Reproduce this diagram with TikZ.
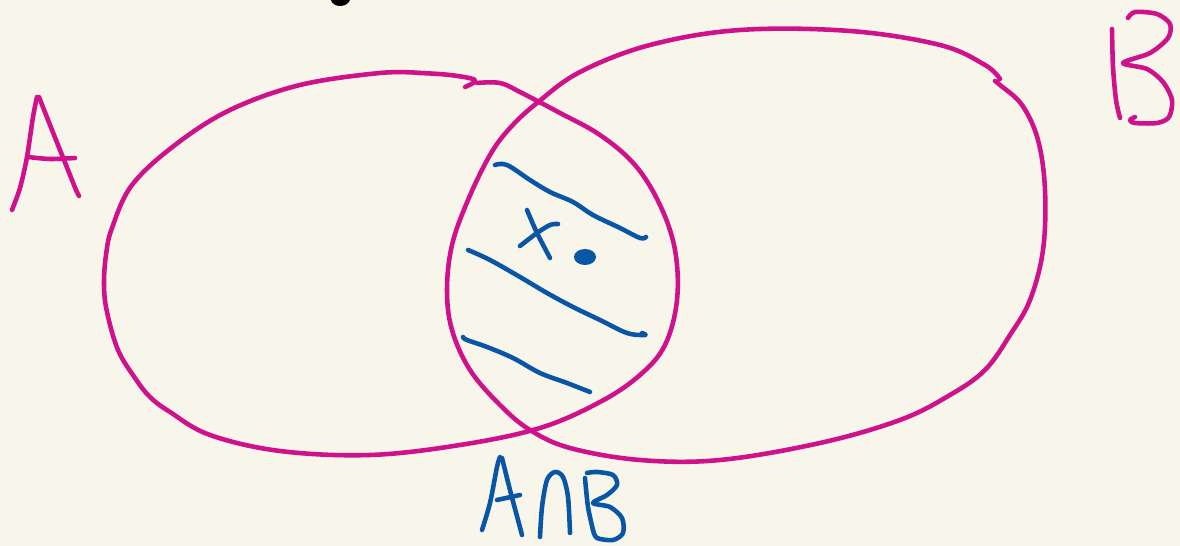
\documentclass[tikz,border=0pt]{standalone}
\usetikzlibrary{}
\definecolor{bg}{HTML}{F8F6EA}
\definecolor{mag}{HTML}{D0118C}
\definecolor{blu}{HTML}{0A56A6}
\tikzset{
  pen/.style={line width=2.6pt, line cap=round, line join=round},
  setline/.style={pen, draw=mag},
  hatch/.style={pen, draw=blu},
}
\begin{document}
\begin{tikzpicture}[x=0.02cm, y=-0.02cm]
\fill[bg] (0,0) rectangle (1180,546);
\useasboundingbox (0,0) rectangle (1180,546);
% black mark at top
\fill[black] (331,0) .. controls (333,8) and (347,8) .. (350,0) -- cycle;
% set A
\draw[setline] plot[smooth, tension=0.6] coordinates {(420,73) (450,75) (475,80) (465,87)};
\draw[setline] plot[smooth, tension=0.6] coordinates {(477,83) (500,83) (520,92) (560,113) (600,135) (635,165) (660,205) (675,250) (677,300) (665,345) (640,375) (600,402) (540,428) (460,445) (370,455) (280,451) (210,435) (170,412) (150,397) (135,378) (118,350) (107,312) (104,285) (106,255) (112,228) (132,185) (175,145) (230,110) (300,85) (380,73) (420,73)};
% set B
\draw[setline] plot[smooth, tension=0.6] coordinates {(1000,79) (985,65) (940,45) (850,31) (740,30) (650,45) (580,72) (537,103) (510,128) (490,155) (468,200) (452,245) (447,290) (452,330) (470,370) (500,405) (530,430) (570,448) (640,460) (720,460) (820,443) (900,420) (950,395) (985,370) (1010,335) (1030,300) (1043,250) (1045,190) (1038,140) (1022,105) (1000,85) (995,81)};
% label A
\draw[setline] plot[smooth, tension=0.5] coordinates {(12,210) (20,188) (27,157) (33,117) (37,97)};
\draw[setline] plot[smooth, tension=0.5] coordinates {(39,97) (52,130) (70,175) (76,190) (79,196)};
\draw[setline] plot[smooth, tension=0.5] coordinates {(28,157) (50,159) (75,158)};
% label B
\draw[setline] plot[smooth, tension=0.5] coordinates {(1112,29) (1113,67) (1116,100) (1120,118)};
\draw[setline] plot[smooth, tension=0.5] coordinates {(1128,18) (1135,12) (1157,14) (1170,24) (1168,38) (1150,53) (1123,63) (1147,69) (1163,82) (1172,100) (1169,117) (1157,123) (1135,123) (1130,120) (1135,117)};
% hatching
\draw[hatch] plot[smooth, tension=0.6] coordinates {(495,165) (507,165) (530,180) (550,192) (573,202) (593,215) (620,228) (640,238) (646,237)};
\draw[hatch] plot[smooth, tension=0.6] coordinates {(468,250) (490,260) (520,277) (547,293) (573,307) (600,320) (627,333) (645,335) (642,333)};
\draw[hatch] plot[smooth, tension=0.6] coordinates {(463,337) (467,340) (487,347) (513,358) (540,373) (567,383) (590,392)};
% x
\draw[hatch] plot[smooth, tension=0.5] coordinates {(527,210) (537,233) (550,258)};
\draw[hatch] plot[smooth, tension=0.5] coordinates {(520,246) (537,233) (550,225) (558,224)};
% point
\fill[blu] (585,257) ellipse [x radius=11, y radius=8];
% label A cap B
\draw[hatch] plot[smooth, tension=0.5] coordinates {(482,530) (490,503) (497,467) (500,457)};
\draw[hatch] plot[smooth, tension=0.5] coordinates {(502,458) (510,490) (518,520) (522,535)};
\draw[hatch] (497,500) -- (520,495);
\draw[hatch] plot[smooth, tension=0.5] coordinates {(540,537) (542,507) (547,480) (555,472) (563,477) (568,497) (570,533)};
\draw[hatch] plot[smooth, tension=0.5] coordinates {(585,478) (588,507) (593,530)};
\draw[hatch] plot[smooth, tension=0.5] coordinates {(587,473) (597,472) (613,475) (617,485) (607,495) (593,503) (610,507) (622,518) (623,533) (613,540) (597,538) (593,530)};
\end{tikzpicture}
\end{document}
